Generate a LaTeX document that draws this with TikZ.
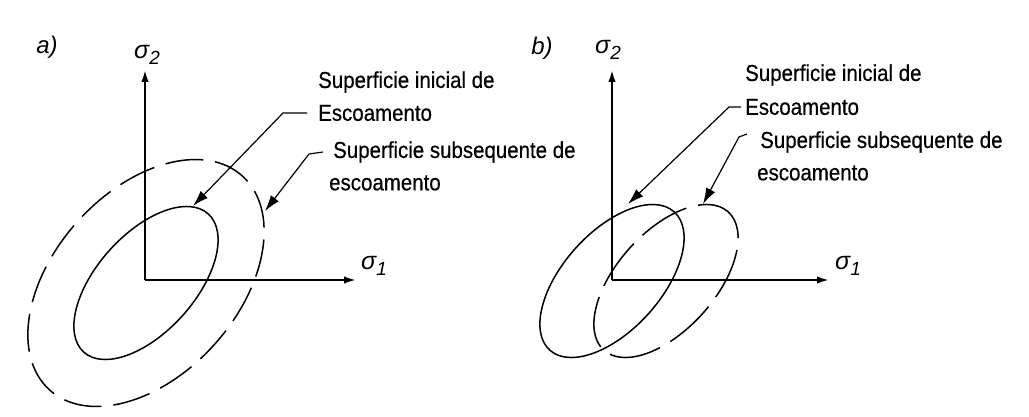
\documentclass[tikz,border=0pt]{standalone}
\usepackage{fontspec}
\setmainfont{Liberation Sans}
\newfontfamily\labfont{Liberation Sans}[FakeStretch=0.89,FakeBold=0.4]
\usetikzlibrary{arrows.meta}
\begin{document}
\begin{tikzpicture}[x=1pt,y=-1pt,
  axis/.style={line width=2pt, -{Latex[length=12pt,width=7.5pt]}},
  surf/.style={line width=1.5pt},
  dsurfA/.style={line width=1.5pt, dash pattern=on 38pt off 12pt, dash phase=7pt},
  dsurfB/.style={line width=1.5pt, dash pattern=on 52pt off 12pt, dash phase=20pt},
  leader/.style={line width=1.2pt, -{Latex[length=16pt,width=10pt]}},
  lab/.style={font=\labfont\fontsize{23}{27}\selectfont, inner sep=0pt, anchor=west},
  sig/.style={font=\fontsize{25}{29}\selectfont\itshape, inner sep=0pt},
  panel/.style={font=\fontsize{24}{28}\selectfont\itshape, inner sep=0pt}]
\useasboundingbox[fill=white] (0,0) rectangle (1029,417);

% ---------------- panel a ----------------
\node[panel] (pa) at (47,47) {a)};
\coordinate (Oa) at (145,280);
\coordinate (Ya) at (145,70);
\coordinate (Xa) at (356,280);
\node[sig] (s2a) at (147,55) {σ\raisebox{-0.5ex}{\fontsize{19}{21}\selectfont 2}};
\node[sig] (s1a) at (374,266) {σ\raisebox{-0.5ex}{\fontsize{19}{21}\selectfont 1}};
\draw[axis] (Oa) -- (Ya);
\draw[axis] (Oa) -- (Xa);
\coordinate (Ca) at (146,283);
\draw[surf, rotate around={48:(Ca)}] (Ca) ellipse [x radius=93pt, y radius=49pt];
\draw[dsurfA, rotate around={48:(Ca)}] (Ca) ellipse [x radius=144pt, y radius=92pt];

\node[lab] (ia1) at (318,82) {Superficie inicial de};
\node[lab] (ia2) at (318,113) {Escoamento};
\node[lab] (sa1) at (333,152) {Superficie subsequente de};
\node[lab] (sa2) at (329,183) {escoamento};
\coordinate (tia) at (193,206);
\coordinate (tsa) at (265,211);
\draw[leader] ([xshift=-11pt]ia2.west) -- ++(-24,0) -- (tia);
\draw[leader] ([xshift=-10pt]sa1.west) -- ++(-14,2) -- (tsa);

% ---------------- panel b ----------------
\node[panel] (pb) at (542,48) {b)};
\coordinate (Ob) at (612,280);
\coordinate (Yb) at (612,70);
\coordinate (Xb) at (829,280);
\node[sig] (s2b) at (608,50) {σ\raisebox{-0.5ex}{\fontsize{19}{21}\selectfont 2}};
\node[sig] (s1b) at (848,266) {σ\raisebox{-0.5ex}{\fontsize{19}{21}\selectfont 1}};
\draw[axis] (Ob) -- (Yb);
\draw[axis] (Ob) -- (Xb);
\coordinate (Cb) at (612,281);
\coordinate (Db) at (666,281);
\draw[surf, rotate around={48:(Cb)}] (Cb) ellipse [x radius=93pt, y radius=49pt];
\draw[dsurfB, rotate around={48:(Db)}] (Db) ellipse [x radius=93pt, y radius=49pt];

\node[lab] (ib1) at (745,75) {Superficie inicial de};
\node[lab] (ib2) at (745,107) {Escoamento};
\node[lab] (sb1) at (760,142) {Superficie subsequente de};
\node[lab] (sb2) at (757,173) {escoamento};
\coordinate (tib) at (628,204);
\coordinate (tsb) at (703,204);
\draw[leader] ([xshift=-4pt]ib2.west) -- ++(-12,0) -- (tib);
\draw[leader] ([xshift=-13pt,yshift=8pt]sb1.west) -- ++(-8,3) -- (tsb);
\end{tikzpicture}
\end{document}
